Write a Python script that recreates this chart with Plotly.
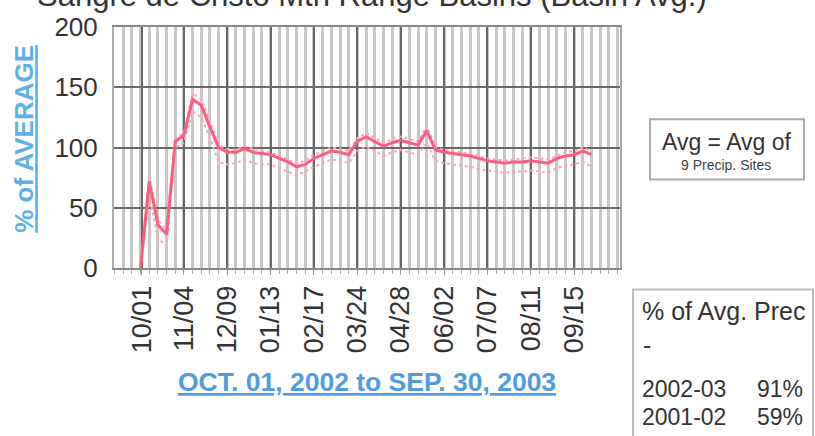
import plotly.graph_objects as go

# ---------------- data ----------------
week_dates = [
    "2002-09-30", "2002-10-07", "2002-10-14", "2002-10-21", "2002-10-28",
    "2002-11-04", "2002-11-11", "2002-11-18", "2002-11-25", "2002-12-02",
    "2002-12-09", "2002-12-16", "2002-12-23", "2002-12-30", "2003-01-06",
    "2003-01-13", "2003-01-20", "2003-01-27", "2003-02-03", "2003-02-10",
    "2003-02-17", "2003-02-24", "2003-03-03", "2003-03-10", "2003-03-17",
    "2003-03-24", "2003-03-31", "2003-04-07", "2003-04-14", "2003-04-21",
    "2003-04-28", "2003-05-05", "2003-05-12", "2003-05-19", "2003-05-26",
    "2003-06-02", "2003-06-09", "2003-06-16", "2003-06-23", "2003-06-30",
    "2003-07-07", "2003-07-14", "2003-07-21", "2003-07-28", "2003-08-04",
    "2003-08-11", "2003-08-18", "2003-08-25", "2003-09-01", "2003-09-08",
    "2003-09-15", "2003-09-22", "2003-09-29",
]
basin_avg = [0, 72, 36, 28, 105, 110, 140, 135, 117, 100,
             96, 96, 99, 96, 95, 94, 91, 88, 84, 86,
             91, 94, 97, 96, 94, 105, 109, 105, 101, 104,
             106, 104, 102, 114, 98, 96, 95, 94, 93, 91,
             89, 88, 87, 88, 88, 89, 88, 87, 91, 93,
             94, 97, 94]
band_upper = [0, 76, 40, 32, 108, 112, 145, 140, 122, 102,
              99, 98, 101, 99, 97, 96, 93, 90, 87, 89,
              94, 97, 100, 99, 97, 108, 112, 108, 104, 107,
              109, 107, 105, 118, 100, 98, 97, 96, 95, 93,
              91, 90, 89, 90, 91, 92, 91, 90, 93, 96,
              97, 100, 97]
band_lower = [0, 60, 25, 18, 100, 104, 130, 125, 108, 88,
              86, 87, 90, 87, 86, 86, 83, 80, 77, 80,
              84, 87, 90, 89, 87, 97, 101, 97, 93, 96,
              98, 96, 94, 104, 89, 87, 86, 85, 84, 82,
              81, 80, 79, 80, 80, 81, 80, 79, 83, 85,
              86, 88, 84]

tick_dates = ["2002-10-01", "2002-11-04", "2002-12-09", "2003-01-13",
              "2003-02-17", "2003-03-24", "2003-04-28", "2003-06-02",
              "2003-07-07", "2003-08-11", "2003-09-15"]
tick_labels = ["10/01", "11/04", "12/09", "01/13", "02/17", "03/24",
               "04/28", "06/02", "07/07", "08/11", "09/15"]
y_ticks = [0, 50, 100, 150, 200]

title_text = "Sangre de Cristo Mtn Range Basins (Basin Avg.)"
x_title = "OCT. 01, 2002 to SEP. 30, 2003"
y_title = "% of AVERAGE"
legend_lines = ["Avg = Avg of", "9 Precip. Sites"]
summary_head = "% of Avg. Prec"
summary_rows = [("2002-03", "91%"), ("2001-02", "59%")]

# ---------------- figure ----------------
W, H = 815, 436
L, R, T, B = 114, 620, 20, 268
pw, ph = R - L, B - T

def px(x):
    return (x - L) / pw

def py(y):
    return (B - y) / ph

FONT = "Liberation Sans, Arial, sans-serif"
PINK = "#ff5c82"
LIGHT_PINK = "#ffa3b8"

fig = go.Figure()
fig.add_trace(go.Scatter(x=week_dates, y=band_upper, mode="lines",
                         line=dict(color=LIGHT_PINK, width=2, dash="dot"),
                         hoverinfo="skip", showlegend=False))
fig.add_trace(go.Scatter(x=week_dates, y=band_lower, mode="lines",
                         line=dict(color=LIGHT_PINK, width=2, dash="dot"),
                         hoverinfo="skip", showlegend=False))
fig.add_trace(go.Scatter(x=week_dates, y=basin_avg, mode="lines",
                         line=dict(color=PINK, width=3),
                         showlegend=False))

fig.update_layout(
    width=W, height=H, autosize=False,
    margin=dict(l=L, r=W - R, t=T, b=H - B, pad=0),
    paper_bgcolor="white", plot_bgcolor="white",
    font=dict(family=FONT, color="#333333"),
    showlegend=False,
)

fig.update_xaxes(
    type="date",
    range=["2002-09-08 14:00", "2003-10-22 00:00"],
    tickmode="array", tickvals=tick_dates, ticktext=tick_labels,
    tickangle=-90, tickfont=dict(size=27, color="#333333", family=FONT),
    ticks="outside", ticklen=5, tickcolor="#999999",
    ticklabelstandoff=0,
    showgrid=True, gridcolor="#666666", gridwidth=1.5,
    minor=dict(tick0="2002-11-04", dtick=7 * 86400000, showgrid=True,
               gridcolor="#c8c8c8", gridwidth=3, ticks="outside",
               ticklen=4, tickcolor="#aaaaaa"),
    showline=True, linecolor="#888888", linewidth=2, mirror=True,
    zeroline=False,
)
fig.update_yaxes(
    range=[0, 200], tickmode="array", tickvals=y_ticks,
    tickfont=dict(size=26, color="#333333", family=FONT),
    ticks="", ticklabelstandoff=9,
    showgrid=True, gridcolor="#6a6a6a", gridwidth=2,
    showline=True, linecolor="#aaaaaa", linewidth=2, mirror=True,
    zeroline=False,
)

annotations = []
# cropped chart title
annotations.append(dict(text=title_text, xref="paper", yref="paper",
                        x=px(372), y=py(-12), xanchor="center", yanchor="middle",
                        showarrow=False,
                        font=dict(size=31, color="#333333", family=FONT)))
# axis titles
annotations.append(dict(text="<u>" + x_title + "</u>", xref="paper", yref="paper",
                        x=px(367), y=py(385), xanchor="center", yanchor="middle",
                        showarrow=False,
                        font=dict(size=26.5, color="#4f9be0", family=FONT, weight="bold")))
annotations.append(dict(text="<u>" + y_title + "</u>", xref="paper", yref="paper",
                        x=px(24), y=py(135), xanchor="center", yanchor="middle",
                        textangle=-90, showarrow=False,
                        font=dict(size=26, color="#5cb2e6", family=FONT, weight="bold")))
# legend box
annotations.append(dict(text=legend_lines[0], xref="paper", yref="paper",
                        x=px(727), y=py(138), xanchor="center", yanchor="middle",
                        showarrow=False, font=dict(size=23, color="#333333", family=FONT)))
annotations.append(dict(text=legend_lines[1], xref="paper", yref="paper",
                        x=px(726), y=py(162), xanchor="center", yanchor="middle",
                        showarrow=False, font=dict(size=14, color="#444444", family=FONT)))
# summary box
annotations.append(dict(text=summary_head, xref="paper", yref="paper",
                        x=px(640), y=py(312), xanchor="left", yanchor="middle",
                        showarrow=False, font=dict(size=25, color="#333333", family=FONT)))
annotations.append(dict(text="-", xref="paper", yref="paper",
                        x=px(641), y=py(347), xanchor="left", yanchor="middle",
                        showarrow=False, font=dict(size=25, color="#333333", family=FONT)))
row_y = [393, 421]
for (season, pct), yy in zip(summary_rows, row_y):
    annotations.append(dict(text=season, xref="paper", yref="paper",
                            x=px(640), y=py(yy), xanchor="left", yanchor="middle",
                            showarrow=False, font=dict(size=23, color="#333333", family=FONT)))
    annotations.append(dict(text=pct, xref="paper", yref="paper",
                            x=px(805), y=py(yy), xanchor="right", yanchor="middle",
                            showarrow=False, font=dict(size=23, color="#333333", family=FONT)))
fig.update_layout(annotations=annotations)

shapes = [
    dict(type="rect", xref="paper", yref="paper",
         x0=px(650), x1=px(804), y0=py(177), y1=py(115),
         line=dict(color="#aaaaaa", width=2), fillcolor="white"),
    dict(type="rect", xref="paper", yref="paper",
         x0=px(633), x1=px(813), y0=py(445), y1=py(290),
         line=dict(color="#bbbbbb", width=2), fillcolor="white"),
]
fig.update_layout(shapes=shapes)

fig.write_html("out.html",
               config={"displayModeBar": False},
               post_script="document.body.style.margin='0';document.body.style.overflow='hidden';")
